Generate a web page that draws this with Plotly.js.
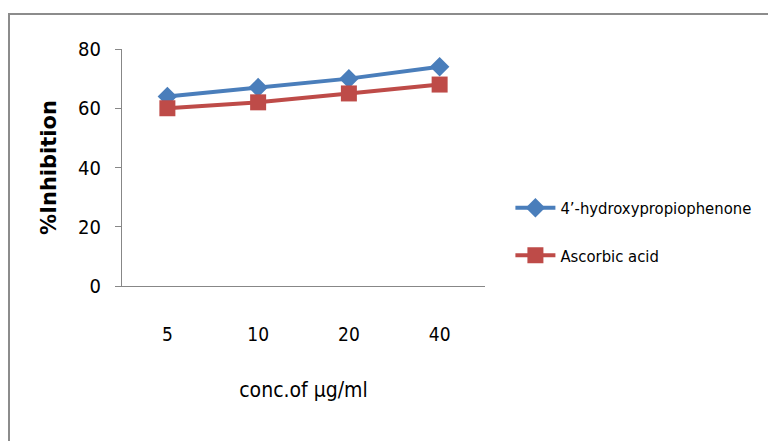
<!DOCTYPE html>
<html>
<head>
<meta charset="utf-8">
<script src="https://cdn.plot.ly/plotly-3.0.1.min.js"></script>
<style>
html,body{margin:0;padding:0;background:#fff;}
#frame{position:absolute;left:8px;top:13px;width:780px;height:440px;border:2px solid #8c8c8c;box-sizing:border-box;}
#chart{position:absolute;left:0;top:0;width:768px;height:441px;}
</style>
</head>
<body>
<div id="frame"></div>
<div id="chart"></div>
<script>
const categories = ['5', '10', '20', '40'];
const hydroxy = [64, 67, 70, 74];
const ascorbic = [60, 62, 65, 68];
const seriesNames = ["4\u2019-hydroxypropiophenone", "Ascorbic acid"];
const yTicks = [0, 20, 40, 60, 80];

const font = "'DejaVu Sans Condensed', 'Liberation Sans Narrow', sans-serif";

const traces = [
  {x: categories, y: hydroxy, name: seriesNames[0], type: 'scatter', mode: 'lines+markers',
   legendgroup: 'a',
   line: {color: '#4a7ebb', width: 4}, marker: {symbol: 'diamond', size: 15, color: '#4a7ebb'}},
  {x: categories, y: ascorbic, name: seriesNames[1], type: 'scatter', mode: 'lines+markers',
   legendgroup: 'b',
   line: {color: '#be4b48', width: 4}, marker: {symbol: 'square', size: 16, color: '#be4b48'}}
];

const layout = {
  width: 768, height: 441,
  margin: {l: 122, r: 283, t: 49, b: 155, autoexpand: false},
  paper_bgcolor: 'rgba(0,0,0,0)', plot_bgcolor: 'rgba(0,0,0,0)',
  showlegend: true,
  legend: {x: 1.07, y: 0.23, xanchor: 'left', yanchor: 'middle', traceorder: 'grouped',
           tracegroupgap: 23, font: {family: font, size: 16.5, color: '#000'}, itemwidth: 40},
  xaxis: {type: 'category', range: [-0.5, 3.5], showline: true, linecolor: '#878787', linewidth: 1,
          showgrid: false, zeroline: false, ticks: '', ticklabelstandoff: 31,
          tickfont: {family: font, size: 19, color: '#000'},
          title: {text: 'conc.of \u00b5g/ml', font: {family: font, size: 21, color: '#000'}, standoff: 38}},
  yaxis: {range: [0, 80], tickvals: yTicks, showline: true, linecolor: '#878787', linewidth: 1,
          showgrid: false, zeroline: false, ticks: 'outside', ticklen: 6, tickcolor: '#878787',
          ticklabelstandoff: 10,
          tickfont: {family: font, size: 20, color: '#000'},
          title: {text: '<b>%Inhibition</b>', font: {family: "'DejaVu Sans', sans-serif", size: 21, color: '#000'}, standoff: 15}}
};

Plotly.newPlot('chart', traces, layout, {displayModeBar: false, staticPlot: true});
</script>
</body>
</html>
